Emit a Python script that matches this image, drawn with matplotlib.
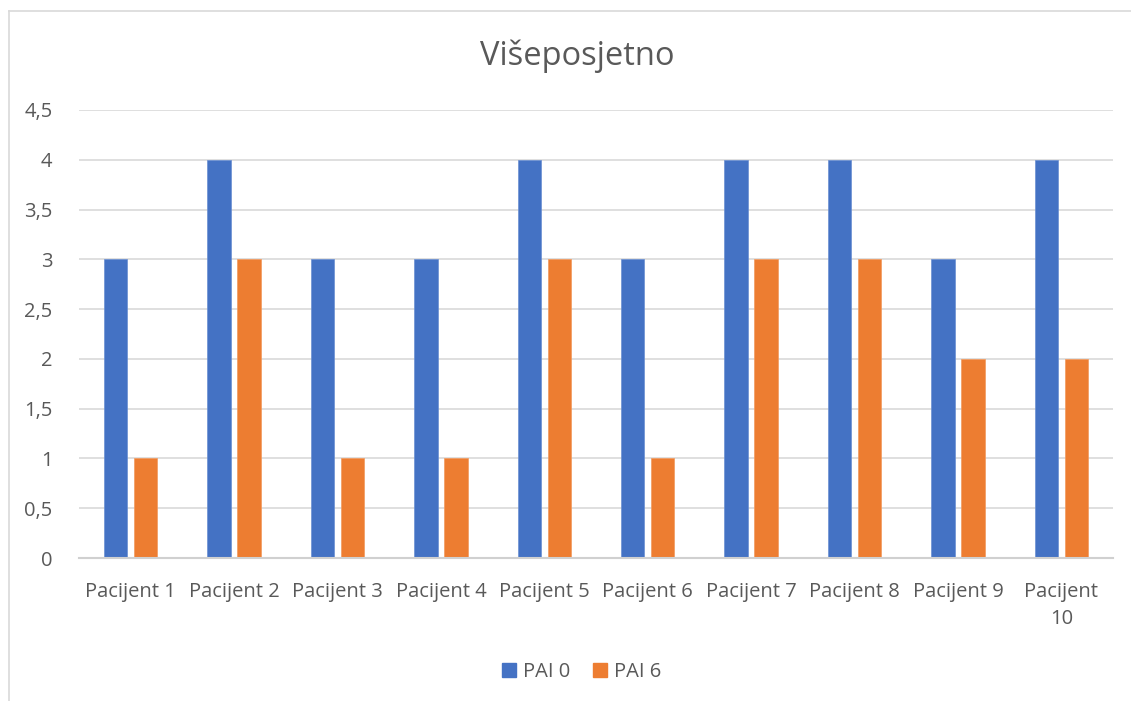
import numpy as np
import matplotlib.pyplot as plt
from matplotlib.lines import Line2D

# Data
patients = ['Pacijent 1', 'Pacijent 2', 'Pacijent 3', 'Pacijent 4', 'Pacijent 5',
            'Pacijent 6', 'Pacijent 7', 'Pacijent 8', 'Pacijent 9', 'Pacijent\n10']
pai0 = [3, 4, 3, 3, 4, 3, 4, 4, 3, 4]
pai6 = [1, 3, 1, 1, 3, 1, 3, 3, 2, 2]
yticks = [0, 0.5, 1, 1.5, 2, 2.5, 3, 3.5, 4, 4.5]

blue = '#4472c4'
orange = '#ed7d31'
text_col = '#595959'
plt.rcParams['font.family'] = ['Open Sans', 'DejaVu Sans']

fig = plt.figure(figsize=(11.31, 7.01), dpi=100)
ax = fig.add_axes([79 / 1131, 143 / 701, (1113 - 79) / 1131, 448 / 701])

x = np.arange(len(patients))
w = 0.227
off = 0.145
ax.bar(x - off, pai0, w, color=blue, edgecolor='#6a8fd2', linewidth=0.5, zorder=3, label='PAI 0')
ax.bar(x + off, pai6, w, color=orange, edgecolor='#f29a5e', linewidth=0.5, zorder=3, label='PAI 6')

ax.set_xlim(-0.5, len(patients) - 0.5)
ax.set_ylim(0, 4.5)
ax.set_yticks(yticks)
ax.set_yticklabels([('%g' % v).replace('.', ',') for v in yticks])
ax.set_xticks(x)
ax.set_xticklabels(patients, linespacing=1.5, va='top')
ax.tick_params(axis='both', length=0, labelsize=14.5, labelcolor=text_col)
ax.tick_params(axis='y', pad=19)
ax.tick_params(axis='x', pad=17)

ax.yaxis.grid(True, color='#d9d9d9', linewidth=1.2, zorder=0)
for s in ['top', 'right', 'left']:
    ax.spines[s].set_visible(False)
ax.spines['bottom'].set_color('#d0d0d0')
ax.spines['bottom'].set_linewidth(1.5)
ax.spines['bottom'].set_zorder(4)

fig.text(577 / 1131, 1 - 56 / 701, 'Višeposjetno', ha='center', va='center',
         fontsize=23.5, color=text_col)

handles = [Line2D([], [], marker='s', linestyle='none', markersize=10, color=blue),
           Line2D([], [], marker='s', linestyle='none', markersize=10, color=orange)]
fig.legend(handles, ['PAI 0', 'PAI 6'], loc='center', bbox_to_anchor=(580 / 1131, 1 - 672 / 701),
           ncol=2, frameon=False, fontsize=14.5, labelcolor=text_col,
           handletextpad=0.2, columnspacing=1.0, handlelength=1.0)

# Outer chart frame (cropped at right and bottom)
fig.add_artist(Line2D([9 / 1131, 1], [1 - 11 / 701, 1 - 11 / 701], color='#d9d9d9', linewidth=1.2))
fig.add_artist(Line2D([9 / 1131, 9 / 1131], [0, 1 - 11 / 701], color='#d9d9d9', linewidth=1.2))

fig.savefig('out.png', dpi=100)
